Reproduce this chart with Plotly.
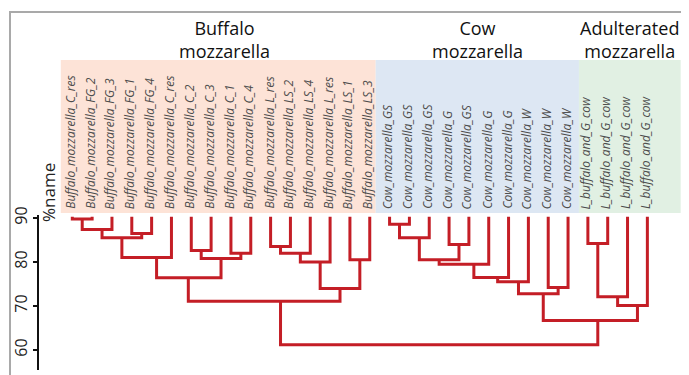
import plotly.graph_objects as go

# ---------------- data ----------------
leaf_labels = [
    "Buffalo_mozzarella_C_res", "Buffalo_mozzarella_FG_2", "Buffalo_mozzarella_FG_3",
    "Buffalo_mozzarella_FG_1", "Buffalo_mozzarella_FG_4", "Buffalo_mozzarella_C_res",
    "Buffalo_mozzarella_C_2", "Buffalo_mozzarella_C_3", "Buffalo_mozzarella_C_1",
    "Buffalo_mozzarella_C_4", "Buffalo_mozzarella_L_res", "Buffalo_mozzarella_LS_2",
    "Buffalo_mozzarella_LS_4", "Buffalo_mozzarella_L_res", "Buffalo_mozzarella_LS_1",
    "Buffalo_mozzarella_LS_3",
    "Cow_mozzarella_GS", "Cow_mozzarella_GS", "Cow_mozzarella_GS", "Cow_mozzarella_G",
    "Cow_mozzarella_GS", "Cow_mozzarella_G", "Cow_mozzarella_G", "Cow_mozzarella_W",
    "Cow_mozzarella_W", "Cow_mozzarella_W",
    "L_buffalo_and_G_cow", "L_buffalo_and_G_cow", "L_buffalo_and_G_cow", "L_buffalo_and_G_cow",
]
leaf_top = 90.3  # similarity at which leaves start

# merges: node name, left child, right child, similarity (%), node position (leaf units)
merge_names = ["A", "B", "C", "D", "E", "F", "G", "H", "I", "J", "K", "L", "M", "N", "O",
               "P", "Q", "R", "S", "T", "U", "V", "W", "X", "Y", "Z", "AA", "AB", "ROOT"]
merge_left = [0, "A", 3, "B", "D", 6, 8, "F", "E", 10, "J", "K", 14, "L", "I",
              16, "P", 19, "Q", "S", "T", "U", 24, "V", 26, "Y", "Z", "X", "O"]
merge_right = [1, 2, 4, "C", 5, 7, 9, "G", "H", 11, 12, 13, 15, "M", "N",
               17, 18, 20, "R", 21, 22, 23, 25, "W", 27, 28, 29, "AA", "AB"]
merge_height = [89.8, 87.4, 86.5, 85.5, 81.0, 82.6, 82.0, 80.8, 76.4, 83.5, 82.0, 80.0, 80.5,
                74.0, 71.1, 88.6, 85.5, 84.0, 80.5, 79.5, 76.5, 75.5, 74.2, 72.8, 84.2, 72.1,
                70.1, 66.7, 61.2]
merge_pos = [0.5, 1.5, 3.5, 2.5, 4.25, 6.5, 8.5, 7.5, 5.85, 10.5, 11.5, 12.5, 14.5, 13.5, 10.5,
             16.5, 17.5, 19.5, 18.5, 20.25, 21.45, 22.5, 24.5, 23.75, 26.5, 27.5, 28.5, 26.5, 18.5]

group_names = ["Buffalo<br>mozzarella", "Cow<br>mozzarella", "Adulterated<br>mozzarella"]
group_start = [-0.58, 15.3, 25.55]
group_end = [15.3, 25.55, 30.68]
group_colors = ["#fde3d7", "#dde7f3", "#e1f0e3"]

y_ticks = [60, 70, 80, 90]

# ---------------- geometry helpers (layout) ----------------
# pixel values below are page coordinates; the page body adds an 8px offset
OFF = 8
W, H = 689 - OFF, 375 - OFF
L_PX, R_PX, T_PX, B_PX = 39, 686, 215, 370
LEAF0_PX, STEP_PX = 72.3, 19.83
x_range = [(L_PX - LEAF0_PX) / STEP_PX, (R_PX - LEAF0_PX) / STEP_PX]
y_range = [90 - (B_PX - 218) / 4.4, 90 + (218 - T_PX) / 4.4]


def idx_to_paper(i):
    px = LEAF0_PX + STEP_PX * i
    return (px - L_PX) / (R_PX - L_PX)


def px_x(px):
    return (px - L_PX) / (R_PX - L_PX)


def px_y(py):
    return (B_PX - py) / (B_PX - T_PX)


# ---------------- build dendrogram lines ----------------
nodes = {}
for i in range(len(leaf_labels)):
    nodes[i] = (i, leaf_top)
for name, l, r, h, p in zip(merge_names, merge_left, merge_right, merge_height, merge_pos):
    nodes[name] = (p, h)

xs, ys = [], []
for name, l, r, h in zip(merge_names, merge_left, merge_right, merge_height):
    lx, lh = nodes[l]
    rx, rh = nodes[r]
    xs += [lx, lx, rx, rx, None]
    ys += [lh, h, h, rh, None]

fig = go.Figure()
fig.add_trace(go.Scatter(x=xs, y=ys, mode="lines",
                         line=dict(color="#c41e26", width=3),
                         hoverinfo="skip", showlegend=False))

shapes = []
annotations = []

# frame
shapes.append(dict(type="rect", xref="paper", yref="paper",
                   x0=px_x(10), x1=px_x(688), y0=px_y(385), y1=px_y(12),
                   line=dict(color="#a9a9a9", width=2), fillcolor="rgba(0,0,0,0)", layer="below"))

# group bands + titles
for name, s, e, c in zip(group_names, group_start, group_end, group_colors):
    shapes.append(dict(type="rect", xref="paper", yref="paper",
                       x0=idx_to_paper(s), x1=idx_to_paper(e), y0=px_y(213), y1=px_y(60),
                       fillcolor=c, line=dict(width=0), layer="below"))
    cx = (idx_to_paper(s) + idx_to_paper(e)) / 2
    if name.startswith("Buffalo"):
        cx += 6 / (R_PX - L_PX)
    annotations.append(dict(text=name, x=cx, y=px_y(39), xref="paper", yref="paper",
                            showarrow=False, xanchor="center", yanchor="middle",
                            font=dict(family="Open Sans", size=18, color="#111111")))

# leaf labels
for i, lab in enumerate(leaf_labels):
    annotations.append(dict(text="<i>" + lab + "</i>", x=idx_to_paper(i - 0.1), y=px_y(211),
                            xref="paper", yref="paper", showarrow=False, textangle=-90,
                            xanchor="center", yanchor="bottom",
                            font=dict(family="Open Sans", size=12, color="#4d4d4d")))

# axis title
annotations.append(dict(text="%name", x=px_x(48), y=px_y(193), xref="paper", yref="paper",
                        showarrow=False, textangle=-90, xanchor="center", yanchor="middle",
                        font=dict(family="Open Sans", size=17, color="#222222")))

fig.update_layout(
    width=W, height=H,
    margin=dict(l=L_PX - OFF, r=W - (R_PX - OFF), t=T_PX - OFF, b=H - (B_PX - OFF),
                pad=0, autoexpand=False),
    paper_bgcolor="white", plot_bgcolor="white",
    shapes=shapes, annotations=annotations,
    xaxis=dict(range=x_range, visible=False, automargin=False),
    yaxis=dict(range=y_range, showline=True, linecolor="#111111", linewidth=2,
               ticks="outside", ticklen=4, tickwidth=2, tickcolor="#111111",
               tickvals=y_ticks, tickangle=-90, showgrid=False, zeroline=False,
               automargin=False,
               tickfont=dict(family="Open Sans", size=16, color="#222222")),
)

fig.write_html("out.html")
